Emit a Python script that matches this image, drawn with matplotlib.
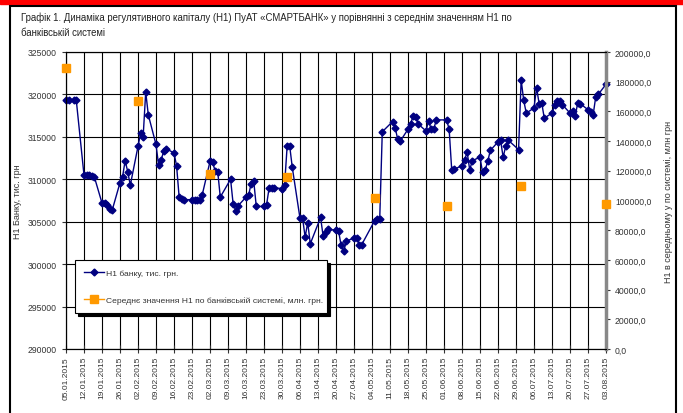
import matplotlib
matplotlib.use('Agg')
import matplotlib.pyplot as plt
import matplotlib.dates as mdates
from matplotlib.lines import Line2D
from matplotlib.patches import Rectangle
from matplotlib.ticker import MultipleLocator, FuncFormatter
import pandas as pd

plt.rcParams['font.family'] = ['Liberation Sans', 'DejaVu Sans']

# --- дані ---
HOLIDAYS = ['2015-01-07', '2015-03-09', '2015-04-13', '2015-05-01', '2015-05-04',
            '2015-05-11', '2015-06-01', '2015-06-29']

# Н1 банку, тис. грн (робочі дні, по тижнях)
bank_h1 = [
    319300, 319300, 319300, 319300,
    310500, 310500, 310500, 310400, 310300,
    307200, 307200, 307000, 306500, 306400,
    309600, 310300, 312200, 310900, 309300,
    313900, 315400, 315000, 320300, 317600,
    314100, 311700, 312300, 313300, 313600,
    313100, 311600, 307900, 307700, 307600,
    307600, 307600, 307600, 307600, 308200,
    312100, 312000, 311000, 310900, 307900,
    310000, 307100, 306300, 306900,
    307900, 308100, 309500, 309800, 306800,
    306800, 307000, 309000, 309000, 309000,
    308900, 309300, 313900, 313900, 311400,
    305400, 305400, 303200, 304900, 302400,
    305500, 303300, 303800, 304100,
    304000, 303900, 302200, 301500, 302700,
    303100, 303100, 302300, 302300,
    305100, 305300, 305300, 315600,
    316800, 316100, 314700, 314500,
    315900, 316500, 317500, 317300, 316500,
    315700, 316900, 315900, 315900, 317000,
    317000, 315900, 311100, 311200,
    311600, 312300, 313200, 311100, 312200,
    312600, 310800, 311100, 312100, 313400,
    314400, 314600, 312600, 313900, 314600,
    313500, 321700, 319300, 317800,
    318400, 320800, 318900, 319000, 317200,
    317800, 318700, 319200, 319200, 318800,
    317800, 318000, 317400, 319000, 318900,
    318200, 317900, 317600, 319700, 320000,
    321200,
]

# Середнє значення Н1 по банківській системі, млн. грн
sys_dates = ['2015-01-05', '2015-02-02', '2015-03-02', '2015-04-01', '2015-05-05',
             '2015-06-02', '2015-07-01', '2015-08-03']
sys_h1 = [189200, 167200, 117900, 115600, 101500, 96500, 110000, 97600]

bank_dates = pd.bdate_range('2015-01-05', '2015-08-03')
bank_dates = bank_dates[~bank_dates.isin(pd.to_datetime(HOLIDAYS))]
assert len(bank_dates) == len(bank_h1)

W, H = 683, 414
fig = plt.figure(figsize=(W / 100, H / 100), dpi=100)
ax1 = fig.add_axes([66 / W, 1 - 350 / H, 540 / W, 297 / H])
ax2 = ax1.twinx()

# рамка і червона смуга
fig.patches.append(Rectangle((0, 1 - 5 / H), 1, 5 / H, transform=fig.transFigure,
                             color='#FF0000', zorder=0))
fig.patches.append(Rectangle((10 / W, -0.05), 666 / W, 1.05 - 7 / H, transform=fig.transFigure,
                             fill=False, edgecolor='black', lw=1.5, zorder=0))

fig.text(21 / W, 1 - 18 / H,
         'Графік 1. Динаміка регулятивного капіталу (Н1) ПуАТ «СМАРТБАНК» у порівнянні з середнім значенням Н1 по',
         fontsize=6.9, va='center', color='#222222')
fig.text(21 / W, 1 - 33 / H, 'банківській системі', fontsize=6.9, va='center', color='#222222')

ax1.plot(bank_dates, bank_h1, color='#000080', lw=1, marker='D', markersize=3.5,
         clip_on=False, zorder=3)
ax2.plot(pd.to_datetime(sys_dates), sys_h1, ls='none', marker='s', markersize=5.5,
         color='#FF9900', clip_on=False, zorder=3)

ax1.set_ylim(290000, 325000)
ax1.yaxis.set_major_locator(MultipleLocator(5000))
ax2.set_ylim(0, 200000)
ax2.yaxis.set_major_locator(MultipleLocator(20000))
ax2.yaxis.set_major_formatter(FuncFormatter(lambda v, p: f'{v:.1f}'.replace('.', ',')))

ax1.set_xlim(pd.Timestamp('2015-01-05'), pd.Timestamp('2015-08-03'))
ax1.xaxis.set_major_locator(mdates.WeekdayLocator(byweekday=mdates.MO, interval=1))
ax1.xaxis.set_major_formatter(mdates.DateFormatter('%d.%m.%Y'))
plt.setp(ax1.get_xticklabels(), rotation=90)

ax1.grid(True, color='black', lw=0.8)
ax1.set_axisbelow(True)
ax1.tick_params(axis='x', direction='inout', length=6, labelsize=6, colors='#333333',
                pad=2)
ax1.tick_params(axis='y', direction='out', length=3, labelsize=6.2, colors='#333333')
ax2.tick_params(axis='y', direction='out', length=3, labelsize=6.2, colors='#333333')
for ax in (ax1, ax2):
    for s in ax.spines.values():
        s.set_color('black')
        s.set_linewidth(0.8)
ax2.spines['right'].set_color('#888888')
ax2.spines['right'].set_linewidth(2.5)

ax1.set_ylabel('Н1 Банку, тис. грн', fontsize=6.5, color='#333333')
ax1.yaxis.set_label_coords(-0.081, 0.5)
ax2.set_ylabel('Н1 в середньому у по системі, млн грн', fontsize=6.5, color='#333333',
               rotation=90)
ax2.yaxis.set_label_coords(1.107, 0.5)

handles = [
    Line2D([], [], color='#000080', lw=1, marker='D', markersize=3.5),
    Line2D([], [], color='#FF9900', lw=1, marker='s', markersize=5.5),
]
labels = ['Н1 банку, тис. грн.', 'Середнє значення Н1 по банківській системі, млн. грн.']
leg = fig.legend(handles, labels, loc='upper left',
                 bbox_to_anchor=(75 / W, 1 - 261 / H, 252 / W, 0.0), mode='expand',
                 fontsize=6.1, frameon=True, fancybox=False, framealpha=1,
                 edgecolor='black', handlelength=2.35, handletextpad=0.2,
                 labelspacing=2.2, borderpad=1.1, borderaxespad=0,
                 shadow={'color': 'black', 'alpha': 1})
leg.get_frame().set_linewidth(0.8)
for t in leg.get_texts():
    t.set_color('#333333')

fig.savefig('out.png', dpi=100)
